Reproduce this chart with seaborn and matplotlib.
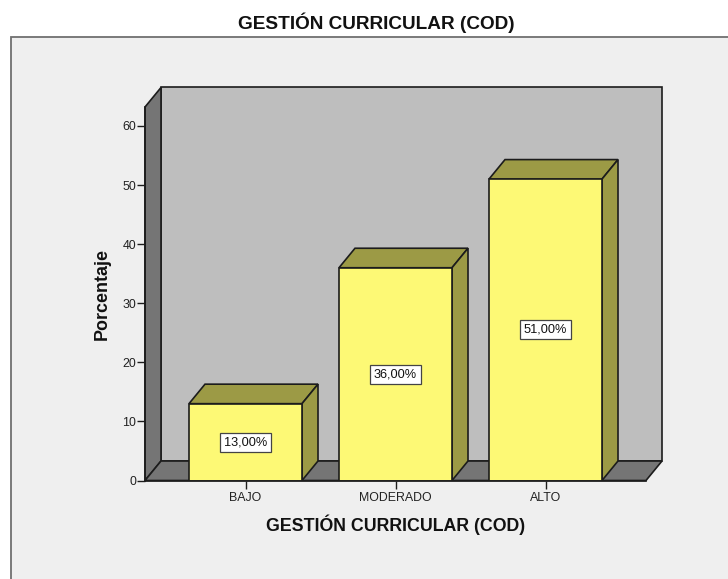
import matplotlib
matplotlib.use("Agg")
import matplotlib.pyplot as plt
from matplotlib.patches import Rectangle
import seaborn as sns

categories = ["BAJO", "MODERADO", "ALTO"]
percentages = [13, 36, 51]
bar_labels = ["13,00%", "36,00%", "51,00%"]
y_ticks = [0, 10, 20, 30, 40, 50, 60]
title = "GESTIÓN CURRICULAR (COD)"
y_label = "Porcentaje"

W, H = 728, 579
sns.set_theme(style="white")
plt.rcParams["font.family"] = ["Liberation Sans", "DejaVu Sans"]

fig = plt.figure(figsize=(W / 100, H / 100), dpi=100, facecolor="white")
fig.add_artist(Rectangle((11 / W, -0.02), 1, 1.02 - 37 / H, transform=fig.transFigure,
                         facecolor="#EFEFEF", edgecolor="#707070", linewidth=1.3, zorder=-5))
fig.text(376 / W, 1 - 23 / H, title, ha="center", va="center", fontsize=13.7,
         fontweight="bold", color="#111111")

L, R, B, T = 145, 646, 480.5, 107
ax = fig.add_axes([L / W, 1 - B / H, (R - L) / W, (B - T) / H])
ax.set_zorder(2)
ax.patch.set_alpha(0)

px_y = 5.91          # pixels per percent
px_x = 150           # pixels per category
ymax = (B - T) / px_y
xmin = -(245.5 - L) / px_x
xmax = xmin + (R - L) / px_x
dx, dy = 16 / px_x, 19.5 / px_y
EDGE = "#1c1c1c"
lw = 1.2

# walls and floor
ax.fill([xmin + dx, xmax + dx, xmax + dx, xmin + dx], [dy, dy, ymax + dy, ymax + dy],
        facecolor="#BEBEBE", edgecolor=EDGE, lw=lw, clip_on=False, zorder=0.5)
ax.fill([xmin, xmin + dx, xmin + dx, xmin], [0, dy, ymax + dy, ymax],
        facecolor="#757575", edgecolor=EDGE, lw=lw, clip_on=False, zorder=0.6)
ax.fill([xmin, xmin + dx, xmax + dx, xmax], [0, dy, dy, 0],
        facecolor="#757575", edgecolor=EDGE, lw=lw, clip_on=False, zorder=0.6)

bw = 113 / px_x
sns.barplot(x=categories, y=percentages, order=categories, color="#FDF975", saturation=1,
            width=bw, edgecolor=EDGE, linewidth=lw, ax=ax, zorder=3)

for i, (v, lab) in enumerate(zip(percentages, bar_labels)):
    x0, x1 = i - bw / 2, i + bw / 2
    ax.fill([x0, x0 + dx, x1 + dx, x1], [v, v + dy, v + dy, v],
            facecolor="#9C9A45", edgecolor=EDGE, lw=lw, clip_on=False, zorder=2.5)
    ax.fill([x1, x1 + dx, x1 + dx, x1], [0, dy, v + dy, v],
            facecolor="#9C9A45", edgecolor=EDGE, lw=lw, clip_on=False, zorder=2.5)
    ax.text(i, v / 2, lab, ha="center", va="center", fontsize=9.2, color="#111111", zorder=5,
            bbox=dict(boxstyle="square,pad=0.28", facecolor="white", edgecolor="#444444", linewidth=0.9))

ax.set_xlim(xmin, xmax)
ax.set_ylim(0, ymax)
ax.set_yticks(y_ticks)
ax.set_yticklabels([str(t) for t in y_ticks])
for s in ("top", "right"):
    ax.spines[s].set_visible(False)
for s in ("left", "bottom"):
    ax.spines[s].set_color(EDGE)
    ax.spines[s].set_linewidth(lw)
    ax.spines[s].set_zorder(4)
ax.tick_params(axis="both", which="major", length=5.5, width=1, color=EDGE, labelsize=8.9,
               labelcolor="#222222", pad=1, left=True, bottom=True)
ax.tick_params(axis="x", pad=2.5)
ax.set_xlabel(title, fontsize=12.8, fontweight="bold", color="#111111", labelpad=8)
ax.set_ylabel(y_label, fontsize=12.9, fontweight="bold", color="#111111", labelpad=8)
fig.savefig("out.png", dpi=100, facecolor="white")
